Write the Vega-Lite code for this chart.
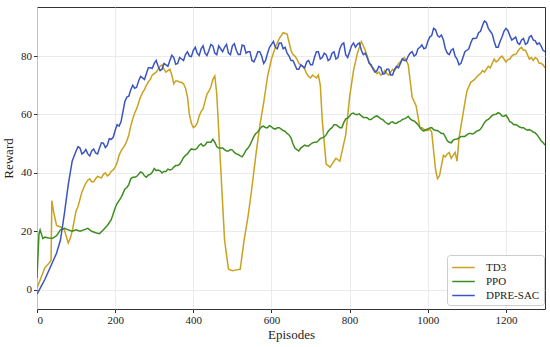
{
  "$schema": "https://vega.github.io/schema/vega-lite/v6.json",
  "autosize": "none",
  "width": 508,
  "height": 302,
  "padding": {"left": 37, "top": 7, "right": 5, "bottom": 38},
  "background": "white",
  "config": {
    "font": "Liberation Serif",
    "view": {"stroke": "#333333", "strokeWidth": 1}
  },
  "data": {"values": [
    {"e":0,"a":"TD3","r":0.6},{"e":10,"a":"TD3","r":4},{"e":20,"a":"TD3","r":7.5},{"e":30,"a":"TD3","r":9},{"e":36,"a":"TD3","r":10},{"e":38,"a":"TD3","r":30.5},{"e":42,"a":"TD3","r":27},{"e":50,"a":"TD3","r":22},{"e":60,"a":"TD3","r":21.5},{"e":70,"a":"TD3","r":20.5},{"e":80,"a":"TD3","r":16},{"e":85,"a":"TD3","r":17.5},{"e":90,"a":"TD3","r":20},{"e":100,"a":"TD3","r":27},{"e":110,"a":"TD3","r":31},{"e":120,"a":"TD3","r":35},{"e":130,"a":"TD3","r":37.5},{"e":140,"a":"TD3","r":37},{"e":150,"a":"TD3","r":38},{"e":160,"a":"TD3","r":38.5},{"e":170,"a":"TD3","r":39.5},{"e":180,"a":"TD3","r":39},{"e":190,"a":"TD3","r":40.5},{"e":200,"a":"TD3","r":42},{"e":210,"a":"TD3","r":46},{"e":220,"a":"TD3","r":48.5},{"e":230,"a":"TD3","r":51},{"e":240,"a":"TD3","r":56},{"e":250,"a":"TD3","r":60.5},{"e":260,"a":"TD3","r":64},{"e":270,"a":"TD3","r":67.5},{"e":280,"a":"TD3","r":70},{"e":290,"a":"TD3","r":72},{"e":300,"a":"TD3","r":74},{"e":310,"a":"TD3","r":75.5},{"e":320,"a":"TD3","r":77},{"e":330,"a":"TD3","r":74.5},{"e":340,"a":"TD3","r":75.5},{"e":350,"a":"TD3","r":70.5},{"e":360,"a":"TD3","r":71.5},{"e":370,"a":"TD3","r":71},{"e":380,"a":"TD3","r":69},{"e":390,"a":"TD3","r":60},{"e":400,"a":"TD3","r":55.5},{"e":410,"a":"TD3","r":57},{"e":420,"a":"TD3","r":61},{"e":430,"a":"TD3","r":64.5},{"e":440,"a":"TD3","r":68},{"e":450,"a":"TD3","r":72},{"e":455,"a":"TD3","r":73.2},{"e":460,"a":"TD3","r":67},{"e":470,"a":"TD3","r":42},{"e":480,"a":"TD3","r":17},{"e":490,"a":"TD3","r":7},{"e":500,"a":"TD3","r":6.5},{"e":510,"a":"TD3","r":6.8},{"e":520,"a":"TD3","r":7},{"e":530,"a":"TD3","r":17},{"e":540,"a":"TD3","r":25},{"e":550,"a":"TD3","r":35},{"e":560,"a":"TD3","r":46},{"e":570,"a":"TD3","r":56},{"e":580,"a":"TD3","r":64},{"e":590,"a":"TD3","r":73},{"e":600,"a":"TD3","r":79},{"e":610,"a":"TD3","r":83},{"e":620,"a":"TD3","r":86},{"e":630,"a":"TD3","r":88},{"e":640,"a":"TD3","r":87.5},{"e":650,"a":"TD3","r":82},{"e":660,"a":"TD3","r":80},{"e":670,"a":"TD3","r":77.5},{"e":680,"a":"TD3","r":76.5},{"e":690,"a":"TD3","r":74},{"e":700,"a":"TD3","r":72.5},{"e":710,"a":"TD3","r":73},{"e":720,"a":"TD3","r":73.5},{"e":725,"a":"TD3","r":70},{"e":730,"a":"TD3","r":58},{"e":740,"a":"TD3","r":43},{"e":750,"a":"TD3","r":42},{"e":760,"a":"TD3","r":44},{"e":770,"a":"TD3","r":44.5},{"e":780,"a":"TD3","r":47},{"e":790,"a":"TD3","r":53},{"e":800,"a":"TD3","r":66},{"e":810,"a":"TD3","r":75},{"e":820,"a":"TD3","r":81},{"e":830,"a":"TD3","r":85},{"e":840,"a":"TD3","r":82},{"e":850,"a":"TD3","r":78},{"e":860,"a":"TD3","r":76},{"e":870,"a":"TD3","r":74},{"e":880,"a":"TD3","r":73.5},{"e":890,"a":"TD3","r":75},{"e":900,"a":"TD3","r":73.5},{"e":910,"a":"TD3","r":75.5},{"e":920,"a":"TD3","r":76},{"e":930,"a":"TD3","r":78},{"e":940,"a":"TD3","r":79.5},{"e":950,"a":"TD3","r":77},{"e":960,"a":"TD3","r":66},{"e":970,"a":"TD3","r":63},{"e":980,"a":"TD3","r":55.5},{"e":990,"a":"TD3","r":55},{"e":1000,"a":"TD3","r":54.5},{"e":1010,"a":"TD3","r":54},{"e":1020,"a":"TD3","r":41},{"e":1025,"a":"TD3","r":38},{"e":1030,"a":"TD3","r":39},{"e":1040,"a":"TD3","r":46},{"e":1050,"a":"TD3","r":46.5},{"e":1060,"a":"TD3","r":45},{"e":1070,"a":"TD3","r":47},{"e":1075,"a":"TD3","r":44},{"e":1080,"a":"TD3","r":52},{"e":1090,"a":"TD3","r":60},{"e":1100,"a":"TD3","r":68},{"e":1110,"a":"TD3","r":71},{"e":1120,"a":"TD3","r":72},{"e":1130,"a":"TD3","r":73.5},{"e":1140,"a":"TD3","r":75},{"e":1150,"a":"TD3","r":75.5},{"e":1160,"a":"TD3","r":76},{"e":1170,"a":"TD3","r":79},{"e":1180,"a":"TD3","r":78.5},{"e":1190,"a":"TD3","r":80},{"e":1200,"a":"TD3","r":78},{"e":1210,"a":"TD3","r":79},{"e":1220,"a":"TD3","r":80.5},{"e":1230,"a":"TD3","r":81.5},{"e":1240,"a":"TD3","r":83},{"e":1250,"a":"TD3","r":82},{"e":1260,"a":"TD3","r":79},{"e":1270,"a":"TD3","r":78.5},{"e":1280,"a":"TD3","r":79},{"e":1290,"a":"TD3","r":77.5},{"e":1300,"a":"TD3","r":76},
    {"e":105,"a":"TD3","r":28.5},{"e":115,"a":"TD3","r":33.5},{"e":125,"a":"TD3","r":36.5},{"e":135,"a":"TD3","r":38},{"e":145,"a":"TD3","r":37},{"e":155,"a":"TD3","r":38.8},{"e":165,"a":"TD3","r":38.3},{"e":175,"a":"TD3","r":40},{"e":185,"a":"TD3","r":39.5},{"e":195,"a":"TD3","r":41},{"e":205,"a":"TD3","r":43.5},{"e":215,"a":"TD3","r":47.5},{"e":225,"a":"TD3","r":49.5},{"e":235,"a":"TD3","r":53},{"e":245,"a":"TD3","r":58.5},{"e":255,"a":"TD3","r":62},{"e":265,"a":"TD3","r":66},{"e":275,"a":"TD3","r":68.5},{"e":285,"a":"TD3","r":71.2},{"e":295,"a":"TD3","r":73.5},{"e":305,"a":"TD3","r":74.5},{"e":315,"a":"TD3","r":76.5},{"e":325,"a":"TD3","r":75.5},{"e":335,"a":"TD3","r":75},{"e":345,"a":"TD3","r":73.5},{"e":355,"a":"TD3","r":71.5},{"e":365,"a":"TD3","r":71},{"e":375,"a":"TD3","r":70.5},{"e":385,"a":"TD3","r":66},{"e":395,"a":"TD3","r":57},{"e":405,"a":"TD3","r":56},{"e":415,"a":"TD3","r":59.5},{"e":425,"a":"TD3","r":62},{"e":435,"a":"TD3","r":67},{"e":445,"a":"TD3","r":69.5},{"e":655,"a":"TD3","r":80.5},{"e":665,"a":"TD3","r":79},{"e":675,"a":"TD3","r":77},{"e":685,"a":"TD3","r":75.5},{"e":695,"a":"TD3","r":73},{"e":705,"a":"TD3","r":73.5},{"e":715,"a":"TD3","r":72.5},{"e":745,"a":"TD3","r":42.5},{"e":755,"a":"TD3","r":43},{"e":765,"a":"TD3","r":45},{"e":775,"a":"TD3","r":44},{"e":785,"a":"TD3","r":50},{"e":845,"a":"TD3","r":80},{"e":855,"a":"TD3","r":76.5},{"e":865,"a":"TD3","r":75},{"e":875,"a":"TD3","r":74.5},{"e":885,"a":"TD3","r":74},{"e":895,"a":"TD3","r":74},{"e":905,"a":"TD3","r":74.5},{"e":915,"a":"TD3","r":75},{"e":925,"a":"TD3","r":77.5},{"e":935,"a":"TD3","r":79},{"e":945,"a":"TD3","r":78.5},{"e":985,"a":"TD3","r":55.5},{"e":995,"a":"TD3","r":54.5},{"e":1005,"a":"TD3","r":55},{"e":1045,"a":"TD3","r":45.5},{"e":1055,"a":"TD3","r":47},{"e":1065,"a":"TD3","r":46},{"e":1115,"a":"TD3","r":71.5},{"e":1125,"a":"TD3","r":72.8},{"e":1135,"a":"TD3","r":74},{"e":1145,"a":"TD3","r":74.5},{"e":1155,"a":"TD3","r":76.5},{"e":1165,"a":"TD3","r":77.5},{"e":1175,"a":"TD3","r":78},{"e":1185,"a":"TD3","r":79.5},{"e":1195,"a":"TD3","r":79},{"e":1205,"a":"TD3","r":78.8},{"e":1215,"a":"TD3","r":80},{"e":1225,"a":"TD3","r":80.5},{"e":1235,"a":"TD3","r":82.5},{"e":1245,"a":"TD3","r":82},{"e":1255,"a":"TD3","r":80.5},{"e":1265,"a":"TD3","r":79.5},{"e":1275,"a":"TD3","r":79.5},{"e":1285,"a":"TD3","r":77.5},{"e":1295,"a":"TD3","r":77},
    {"e":0,"a":"PPO","r":4},{"e":5,"a":"PPO","r":19},{"e":8,"a":"PPO","r":20.5},{"e":15,"a":"PPO","r":17.5},{"e":20,"a":"PPO","r":18},{"e":30,"a":"PPO","r":17.7},{"e":40,"a":"PPO","r":17.6},{"e":50,"a":"PPO","r":18.5},{"e":60,"a":"PPO","r":20.5},{"e":70,"a":"PPO","r":21},{"e":80,"a":"PPO","r":20.5},{"e":90,"a":"PPO","r":20},{"e":100,"a":"PPO","r":20.5},{"e":110,"a":"PPO","r":20},{"e":120,"a":"PPO","r":20.5},{"e":130,"a":"PPO","r":21},{"e":140,"a":"PPO","r":20},{"e":150,"a":"PPO","r":19.5},{"e":160,"a":"PPO","r":19.2},{"e":170,"a":"PPO","r":20.5},{"e":180,"a":"PPO","r":22},{"e":190,"a":"PPO","r":24},{"e":200,"a":"PPO","r":28},{"e":210,"a":"PPO","r":30.5},{"e":220,"a":"PPO","r":33},{"e":230,"a":"PPO","r":35},{"e":240,"a":"PPO","r":38},{"e":250,"a":"PPO","r":38.5},{"e":260,"a":"PPO","r":39.5},{"e":270,"a":"PPO","r":40},{"e":280,"a":"PPO","r":38.5},{"e":290,"a":"PPO","r":39.5},{"e":300,"a":"PPO","r":41.5},{"e":310,"a":"PPO","r":41},{"e":320,"a":"PPO","r":40},{"e":330,"a":"PPO","r":40.5},{"e":340,"a":"PPO","r":41},{"e":350,"a":"PPO","r":42},{"e":360,"a":"PPO","r":42.5},{"e":370,"a":"PPO","r":44},{"e":380,"a":"PPO","r":46},{"e":390,"a":"PPO","r":47.5},{"e":400,"a":"PPO","r":48},{"e":410,"a":"PPO","r":48.5},{"e":420,"a":"PPO","r":50},{"e":430,"a":"PPO","r":49.5},{"e":440,"a":"PPO","r":50.5},{"e":450,"a":"PPO","r":51.5},{"e":460,"a":"PPO","r":49},{"e":470,"a":"PPO","r":48.5},{"e":480,"a":"PPO","r":48},{"e":490,"a":"PPO","r":47.5},{"e":500,"a":"PPO","r":47.8},{"e":510,"a":"PPO","r":46.5},{"e":520,"a":"PPO","r":45.8},{"e":530,"a":"PPO","r":46.5},{"e":540,"a":"PPO","r":48.5},{"e":550,"a":"PPO","r":51},{"e":560,"a":"PPO","r":53.5},{"e":570,"a":"PPO","r":55},{"e":580,"a":"PPO","r":56},{"e":590,"a":"PPO","r":55.5},{"e":600,"a":"PPO","r":55.8},{"e":610,"a":"PPO","r":55},{"e":620,"a":"PPO","r":55.5},{"e":630,"a":"PPO","r":54.5},{"e":640,"a":"PPO","r":53.5},{"e":650,"a":"PPO","r":52},{"e":660,"a":"PPO","r":48.5},{"e":670,"a":"PPO","r":47.5},{"e":680,"a":"PPO","r":49},{"e":690,"a":"PPO","r":49.2},{"e":700,"a":"PPO","r":49.8},{"e":710,"a":"PPO","r":50.5},{"e":720,"a":"PPO","r":51},{"e":730,"a":"PPO","r":52},{"e":740,"a":"PPO","r":53},{"e":750,"a":"PPO","r":55},{"e":760,"a":"PPO","r":56.5},{"e":770,"a":"PPO","r":56},{"e":780,"a":"PPO","r":55.5},{"e":790,"a":"PPO","r":58.5},{"e":800,"a":"PPO","r":59.5},{"e":810,"a":"PPO","r":60.5},{"e":820,"a":"PPO","r":60},{"e":830,"a":"PPO","r":59.5},{"e":840,"a":"PPO","r":59},{"e":850,"a":"PPO","r":58.3},{"e":860,"a":"PPO","r":58.8},{"e":870,"a":"PPO","r":59.5},{"e":880,"a":"PPO","r":58.5},{"e":890,"a":"PPO","r":57.5},{"e":900,"a":"PPO","r":56.6},{"e":910,"a":"PPO","r":57.5},{"e":920,"a":"PPO","r":57},{"e":930,"a":"PPO","r":57.7},{"e":940,"a":"PPO","r":58.5},{"e":950,"a":"PPO","r":59.4},{"e":960,"a":"PPO","r":58},{"e":970,"a":"PPO","r":57.2},{"e":980,"a":"PPO","r":55.5},{"e":990,"a":"PPO","r":54.3},{"e":1000,"a":"PPO","r":55},{"e":1010,"a":"PPO","r":55.5},{"e":1020,"a":"PPO","r":54.5},{"e":1030,"a":"PPO","r":54},{"e":1040,"a":"PPO","r":53.5},{"e":1050,"a":"PPO","r":51},{"e":1060,"a":"PPO","r":50.3},{"e":1070,"a":"PPO","r":51.5},{"e":1080,"a":"PPO","r":52},{"e":1090,"a":"PPO","r":52.5},{"e":1100,"a":"PPO","r":53},{"e":1110,"a":"PPO","r":53.5},{"e":1120,"a":"PPO","r":53.7},{"e":1130,"a":"PPO","r":54.5},{"e":1140,"a":"PPO","r":56},{"e":1150,"a":"PPO","r":58},{"e":1160,"a":"PPO","r":59},{"e":1170,"a":"PPO","r":60},{"e":1180,"a":"PPO","r":60.6},{"e":1190,"a":"PPO","r":59.5},{"e":1200,"a":"PPO","r":59.8},{"e":1210,"a":"PPO","r":57.5},{"e":1220,"a":"PPO","r":56.5},{"e":1230,"a":"PPO","r":56.2},{"e":1240,"a":"PPO","r":55.5},{"e":1250,"a":"PPO","r":55},{"e":1260,"a":"PPO","r":54.8},{"e":1270,"a":"PPO","r":54},{"e":1280,"a":"PPO","r":53},{"e":1290,"a":"PPO","r":51},{"e":1300,"a":"PPO","r":49.5},
    {"e":205,"a":"PPO","r":29.5},{"e":215,"a":"PPO","r":31.5},{"e":225,"a":"PPO","r":34.5},{"e":235,"a":"PPO","r":36},{"e":245,"a":"PPO","r":38.5},{"e":255,"a":"PPO","r":38.8},{"e":265,"a":"PPO","r":40.3},{"e":275,"a":"PPO","r":39},{"e":285,"a":"PPO","r":39.3},{"e":295,"a":"PPO","r":40.2},{"e":305,"a":"PPO","r":40.8},{"e":315,"a":"PPO","r":40.7},{"e":325,"a":"PPO","r":40.5},{"e":335,"a":"PPO","r":41.3},{"e":345,"a":"PPO","r":41.2},{"e":355,"a":"PPO","r":42.5},{"e":365,"a":"PPO","r":43},{"e":375,"a":"PPO","r":45.3},{"e":385,"a":"PPO","r":46.5},{"e":395,"a":"PPO","r":48.2},{"e":405,"a":"PPO","r":48},{"e":415,"a":"PPO","r":49.5},{"e":425,"a":"PPO","r":49.2},{"e":435,"a":"PPO","r":50.5},{"e":445,"a":"PPO","r":50.5},{"e":455,"a":"PPO","r":50.5},{"e":465,"a":"PPO","r":48.5},{"e":475,"a":"PPO","r":48.5},{"e":485,"a":"PPO","r":47.5},{"e":495,"a":"PPO","r":48},{"e":505,"a":"PPO","r":47},{"e":515,"a":"PPO","r":46.3},{"e":525,"a":"PPO","r":45.5},{"e":535,"a":"PPO","r":47.8},{"e":545,"a":"PPO","r":49.5},{"e":555,"a":"PPO","r":52.5},{"e":565,"a":"PPO","r":54},{"e":575,"a":"PPO","r":55.8},{"e":585,"a":"PPO","r":55.5},{"e":595,"a":"PPO","r":56.2},{"e":605,"a":"PPO","r":55.2},{"e":615,"a":"PPO","r":55.5},{"e":625,"a":"PPO","r":55},{"e":635,"a":"PPO","r":54.2},{"e":645,"a":"PPO","r":53},{"e":655,"a":"PPO","r":50},{"e":665,"a":"PPO","r":48},{"e":675,"a":"PPO","r":48.5},{"e":685,"a":"PPO","r":49.5},{"e":695,"a":"PPO","r":49.2},{"e":705,"a":"PPO","r":50.3},{"e":715,"a":"PPO","r":50.5},{"e":725,"a":"PPO","r":51.8},{"e":735,"a":"PPO","r":52.3},{"e":745,"a":"PPO","r":54.2},{"e":755,"a":"PPO","r":55.5},{"e":765,"a":"PPO","r":56.5},{"e":775,"a":"PPO","r":55.5},{"e":785,"a":"PPO","r":57.2},{"e":795,"a":"PPO","r":58.7},{"e":805,"a":"PPO","r":60.3},{"e":815,"a":"PPO","r":60},{"e":825,"a":"PPO","r":60.2},{"e":835,"a":"PPO","r":59},{"e":845,"a":"PPO","r":58.9},{"e":855,"a":"PPO","r":58.3},{"e":865,"a":"PPO","r":59.3},{"e":875,"a":"PPO","r":59},{"e":885,"a":"PPO","r":58.2},{"e":895,"a":"PPO","r":57},{"e":905,"a":"PPO","r":57.3},{"e":915,"a":"PPO","r":57},{"e":925,"a":"PPO","r":57.5},{"e":935,"a":"PPO","r":58.3},{"e":945,"a":"PPO","r":58.8},{"e":955,"a":"PPO","r":58.5},{"e":965,"a":"PPO","r":57.8},{"e":975,"a":"PPO","r":56.5},{"e":985,"a":"PPO","r":54.7},{"e":995,"a":"PPO","r":54.8},{"e":1005,"a":"PPO","r":55.4},{"e":1015,"a":"PPO","r":54.8},{"e":1025,"a":"PPO","r":54.5},{"e":1035,"a":"PPO","r":53.5},{"e":1045,"a":"PPO","r":52.3},{"e":1055,"a":"PPO","r":50.5},{"e":1065,"a":"PPO","r":51.2},{"e":1075,"a":"PPO","r":51.6},{"e":1085,"a":"PPO","r":52.5},{"e":1095,"a":"PPO","r":52.5},{"e":1105,"a":"PPO","r":53.5},{"e":1115,"a":"PPO","r":53.3},{"e":1125,"a":"PPO","r":54.3},{"e":1135,"a":"PPO","r":55},{"e":1145,"a":"PPO","r":57.2},{"e":1155,"a":"PPO","r":58.3},{"e":1165,"a":"PPO","r":59.7},{"e":1175,"a":"PPO","r":60.1},{"e":1185,"a":"PPO","r":60.3},{"e":1195,"a":"PPO","r":59.4},{"e":1205,"a":"PPO","r":58.8},{"e":1215,"a":"PPO","r":57.2},{"e":1225,"a":"PPO","r":56.6},{"e":1235,"a":"PPO","r":55.7},{"e":1245,"a":"PPO","r":55.5},{"e":1255,"a":"PPO","r":54.6},{"e":1265,"a":"PPO","r":54.5},{"e":1275,"a":"PPO","r":53.7},{"e":1285,"a":"PPO","r":52},{"e":1295,"a":"PPO","r":50.4},
    {"e":0,"a":"DPRE-SAC","r":-1.5},{"e":10,"a":"DPRE-SAC","r":1},{"e":20,"a":"DPRE-SAC","r":3.5},{"e":30,"a":"DPRE-SAC","r":6.5},{"e":40,"a":"DPRE-SAC","r":9.5},{"e":50,"a":"DPRE-SAC","r":12.5},{"e":60,"a":"DPRE-SAC","r":17},{"e":70,"a":"DPRE-SAC","r":26},{"e":80,"a":"DPRE-SAC","r":36},{"e":90,"a":"DPRE-SAC","r":44},{"e":100,"a":"DPRE-SAC","r":47.5},{"e":110,"a":"DPRE-SAC","r":48.5},{"e":120,"a":"DPRE-SAC","r":47},{"e":130,"a":"DPRE-SAC","r":46.5},{"e":140,"a":"DPRE-SAC","r":47.5},{"e":150,"a":"DPRE-SAC","r":46.8},{"e":160,"a":"DPRE-SAC","r":48.5},{"e":170,"a":"DPRE-SAC","r":50.2},{"e":180,"a":"DPRE-SAC","r":49.5},{"e":190,"a":"DPRE-SAC","r":51.5},{"e":200,"a":"DPRE-SAC","r":54.5},{"e":210,"a":"DPRE-SAC","r":56},{"e":220,"a":"DPRE-SAC","r":61},{"e":230,"a":"DPRE-SAC","r":66},{"e":240,"a":"DPRE-SAC","r":68.5},{"e":250,"a":"DPRE-SAC","r":69},{"e":260,"a":"DPRE-SAC","r":71.5},{"e":270,"a":"DPRE-SAC","r":72.5},{"e":280,"a":"DPRE-SAC","r":74},{"e":290,"a":"DPRE-SAC","r":76},{"e":300,"a":"DPRE-SAC","r":77.5},{"e":310,"a":"DPRE-SAC","r":76.5},{"e":320,"a":"DPRE-SAC","r":75.5},{"e":330,"a":"DPRE-SAC","r":77},{"e":340,"a":"DPRE-SAC","r":78.5},{"e":350,"a":"DPRE-SAC","r":79.5},{"e":360,"a":"DPRE-SAC","r":77.5},{"e":370,"a":"DPRE-SAC","r":79},{"e":380,"a":"DPRE-SAC","r":80.5},{"e":390,"a":"DPRE-SAC","r":80},{"e":400,"a":"DPRE-SAC","r":82},{"e":410,"a":"DPRE-SAC","r":81},{"e":420,"a":"DPRE-SAC","r":82.5},{"e":430,"a":"DPRE-SAC","r":81},{"e":440,"a":"DPRE-SAC","r":82},{"e":450,"a":"DPRE-SAC","r":83.5},{"e":460,"a":"DPRE-SAC","r":80.5},{"e":470,"a":"DPRE-SAC","r":82.5},{"e":480,"a":"DPRE-SAC","r":83},{"e":490,"a":"DPRE-SAC","r":81},{"e":500,"a":"DPRE-SAC","r":83.5},{"e":510,"a":"DPRE-SAC","r":82},{"e":520,"a":"DPRE-SAC","r":80.5},{"e":530,"a":"DPRE-SAC","r":83.5},{"e":540,"a":"DPRE-SAC","r":81.5},{"e":550,"a":"DPRE-SAC","r":78.5},{"e":560,"a":"DPRE-SAC","r":79.5},{"e":570,"a":"DPRE-SAC","r":81.5},{"e":580,"a":"DPRE-SAC","r":77.5},{"e":590,"a":"DPRE-SAC","r":81},{"e":600,"a":"DPRE-SAC","r":84},{"e":610,"a":"DPRE-SAC","r":83},{"e":620,"a":"DPRE-SAC","r":84.5},{"e":630,"a":"DPRE-SAC","r":82.5},{"e":640,"a":"DPRE-SAC","r":81},{"e":650,"a":"DPRE-SAC","r":78.5},{"e":660,"a":"DPRE-SAC","r":77},{"e":670,"a":"DPRE-SAC","r":75.5},{"e":680,"a":"DPRE-SAC","r":76.5},{"e":690,"a":"DPRE-SAC","r":78},{"e":700,"a":"DPRE-SAC","r":77},{"e":710,"a":"DPRE-SAC","r":79.5},{"e":720,"a":"DPRE-SAC","r":81.5},{"e":730,"a":"DPRE-SAC","r":79.5},{"e":740,"a":"DPRE-SAC","r":80.5},{"e":750,"a":"DPRE-SAC","r":79},{"e":760,"a":"DPRE-SAC","r":81.5},{"e":770,"a":"DPRE-SAC","r":79.5},{"e":780,"a":"DPRE-SAC","r":84},{"e":790,"a":"DPRE-SAC","r":80.5},{"e":800,"a":"DPRE-SAC","r":81.5},{"e":810,"a":"DPRE-SAC","r":84.5},{"e":820,"a":"DPRE-SAC","r":84},{"e":830,"a":"DPRE-SAC","r":82},{"e":840,"a":"DPRE-SAC","r":81},{"e":850,"a":"DPRE-SAC","r":77.5},{"e":860,"a":"DPRE-SAC","r":75.5},{"e":870,"a":"DPRE-SAC","r":75},{"e":880,"a":"DPRE-SAC","r":76},{"e":890,"a":"DPRE-SAC","r":74},{"e":900,"a":"DPRE-SAC","r":75.5},{"e":910,"a":"DPRE-SAC","r":73.5},{"e":920,"a":"DPRE-SAC","r":76.5},{"e":930,"a":"DPRE-SAC","r":77.5},{"e":940,"a":"DPRE-SAC","r":78.5},{"e":950,"a":"DPRE-SAC","r":80},{"e":960,"a":"DPRE-SAC","r":81.5},{"e":970,"a":"DPRE-SAC","r":80.5},{"e":980,"a":"DPRE-SAC","r":83},{"e":990,"a":"DPRE-SAC","r":82.5},{"e":1000,"a":"DPRE-SAC","r":85},{"e":1010,"a":"DPRE-SAC","r":87},{"e":1020,"a":"DPRE-SAC","r":89},{"e":1030,"a":"DPRE-SAC","r":86.5},{"e":1040,"a":"DPRE-SAC","r":85.5},{"e":1050,"a":"DPRE-SAC","r":81},{"e":1060,"a":"DPRE-SAC","r":82},{"e":1070,"a":"DPRE-SAC","r":80},{"e":1080,"a":"DPRE-SAC","r":77},{"e":1090,"a":"DPRE-SAC","r":79.5},{"e":1100,"a":"DPRE-SAC","r":82},{"e":1110,"a":"DPRE-SAC","r":84.5},{"e":1120,"a":"DPRE-SAC","r":86},{"e":1130,"a":"DPRE-SAC","r":88},{"e":1140,"a":"DPRE-SAC","r":90.5},{"e":1150,"a":"DPRE-SAC","r":91.5},{"e":1160,"a":"DPRE-SAC","r":88.5},{"e":1170,"a":"DPRE-SAC","r":85},{"e":1180,"a":"DPRE-SAC","r":83},{"e":1190,"a":"DPRE-SAC","r":86.5},{"e":1200,"a":"DPRE-SAC","r":89.5},{"e":1210,"a":"DPRE-SAC","r":87},{"e":1220,"a":"DPRE-SAC","r":86},{"e":1230,"a":"DPRE-SAC","r":84.5},{"e":1240,"a":"DPRE-SAC","r":85.5},{"e":1250,"a":"DPRE-SAC","r":84},{"e":1260,"a":"DPRE-SAC","r":86.5},{"e":1270,"a":"DPRE-SAC","r":85.5},{"e":1280,"a":"DPRE-SAC","r":84},{"e":1290,"a":"DPRE-SAC","r":83.5},{"e":1300,"a":"DPRE-SAC","r":81.5},
    {"e":105,"a":"DPRE-SAC","r":49},{"e":115,"a":"DPRE-SAC","r":46.5},{"e":125,"a":"DPRE-SAC","r":48},{"e":135,"a":"DPRE-SAC","r":45.8},{"e":145,"a":"DPRE-SAC","r":48.2},{"e":155,"a":"DPRE-SAC","r":46.5},{"e":165,"a":"DPRE-SAC","r":50.3},{"e":175,"a":"DPRE-SAC","r":48.7},{"e":185,"a":"DPRE-SAC","r":51.7},{"e":195,"a":"DPRE-SAC","r":52.2},{"e":205,"a":"DPRE-SAC","r":56.5},{"e":215,"a":"DPRE-SAC","r":57.5},{"e":225,"a":"DPRE-SAC","r":64.5},{"e":235,"a":"DPRE-SAC","r":66.3},{"e":245,"a":"DPRE-SAC","r":70},{"e":255,"a":"DPRE-SAC","r":69.3},{"e":265,"a":"DPRE-SAC","r":73},{"e":275,"a":"DPRE-SAC","r":72},{"e":285,"a":"DPRE-SAC","r":76},{"e":295,"a":"DPRE-SAC","r":75.8},{"e":305,"a":"DPRE-SAC","r":78.5},{"e":315,"a":"DPRE-SAC","r":75},{"e":325,"a":"DPRE-SAC","r":77.5},{"e":335,"a":"DPRE-SAC","r":76.5},{"e":345,"a":"DPRE-SAC","r":80.3},{"e":355,"a":"DPRE-SAC","r":77.2},{"e":365,"a":"DPRE-SAC","r":79.5},{"e":375,"a":"DPRE-SAC","r":78.5},{"e":385,"a":"DPRE-SAC","r":81.5},{"e":395,"a":"DPRE-SAC","r":79.8},{"e":405,"a":"DPRE-SAC","r":83},{"e":415,"a":"DPRE-SAC","r":80.2},{"e":425,"a":"DPRE-SAC","r":83.5},{"e":435,"a":"DPRE-SAC","r":80.2},{"e":445,"a":"DPRE-SAC","r":84},{"e":455,"a":"DPRE-SAC","r":81},{"e":465,"a":"DPRE-SAC","r":83.5},{"e":475,"a":"DPRE-SAC","r":81.5},{"e":485,"a":"DPRE-SAC","r":84},{"e":495,"a":"DPRE-SAC","r":80.5},{"e":505,"a":"DPRE-SAC","r":84.2},{"e":515,"a":"DPRE-SAC","r":80.5},{"e":525,"a":"DPRE-SAC","r":83.8},{"e":535,"a":"DPRE-SAC","r":81},{"e":545,"a":"DPRE-SAC","r":81.5},{"e":555,"a":"DPRE-SAC","r":78},{"e":565,"a":"DPRE-SAC","r":81.5},{"e":575,"a":"DPRE-SAC","r":80},{"e":585,"a":"DPRE-SAC","r":78.5},{"e":595,"a":"DPRE-SAC","r":83},{"e":605,"a":"DPRE-SAC","r":85},{"e":615,"a":"DPRE-SAC","r":82.5},{"e":625,"a":"DPRE-SAC","r":84.5},{"e":635,"a":"DPRE-SAC","r":83},{"e":645,"a":"DPRE-SAC","r":80},{"e":655,"a":"DPRE-SAC","r":78.5},{"e":665,"a":"DPRE-SAC","r":75.5},{"e":675,"a":"DPRE-SAC","r":77},{"e":685,"a":"DPRE-SAC","r":76},{"e":695,"a":"DPRE-SAC","r":78.5},{"e":705,"a":"DPRE-SAC","r":77},{"e":715,"a":"DPRE-SAC","r":81.5},{"e":725,"a":"DPRE-SAC","r":79},{"e":735,"a":"DPRE-SAC","r":81},{"e":745,"a":"DPRE-SAC","r":78.5},{"e":755,"a":"DPRE-SAC","r":81},{"e":765,"a":"DPRE-SAC","r":79},{"e":775,"a":"DPRE-SAC","r":82.5},{"e":785,"a":"DPRE-SAC","r":84.5},{"e":795,"a":"DPRE-SAC","r":79.5},{"e":805,"a":"DPRE-SAC","r":83.5},{"e":815,"a":"DPRE-SAC","r":83},{"e":825,"a":"DPRE-SAC","r":84.5},{"e":835,"a":"DPRE-SAC","r":80.5},{"e":845,"a":"DPRE-SAC","r":79.5},{"e":855,"a":"DPRE-SAC","r":77},{"e":865,"a":"DPRE-SAC","r":74.5},{"e":875,"a":"DPRE-SAC","r":76.5},{"e":885,"a":"DPRE-SAC","r":73.8},{"e":895,"a":"DPRE-SAC","r":75.5},{"e":905,"a":"DPRE-SAC","r":73.5},{"e":915,"a":"DPRE-SAC","r":75.5},{"e":925,"a":"DPRE-SAC","r":76},{"e":935,"a":"DPRE-SAC","r":79},{"e":945,"a":"DPRE-SAC","r":78.5},{"e":955,"a":"DPRE-SAC","r":81},{"e":965,"a":"DPRE-SAC","r":80},{"e":975,"a":"DPRE-SAC","r":82.5},{"e":985,"a":"DPRE-SAC","r":83.8},{"e":995,"a":"DPRE-SAC","r":82.8},{"e":1005,"a":"DPRE-SAC","r":86.5},{"e":1015,"a":"DPRE-SAC","r":89.5},{"e":1025,"a":"DPRE-SAC","r":87},{"e":1035,"a":"DPRE-SAC","r":87.2},{"e":1045,"a":"DPRE-SAC","r":82.5},{"e":1055,"a":"DPRE-SAC","r":80.5},{"e":1065,"a":"DPRE-SAC","r":82.5},{"e":1075,"a":"DPRE-SAC","r":79},{"e":1085,"a":"DPRE-SAC","r":77.5},{"e":1095,"a":"DPRE-SAC","r":81.5},{"e":1105,"a":"DPRE-SAC","r":82.5},{"e":1115,"a":"DPRE-SAC","r":86},{"e":1125,"a":"DPRE-SAC","r":86.2},{"e":1135,"a":"DPRE-SAC","r":88.5},{"e":1145,"a":"DPRE-SAC","r":92},{"e":1155,"a":"DPRE-SAC","r":89.5},{"e":1165,"a":"DPRE-SAC","r":87.5},{"e":1175,"a":"DPRE-SAC","r":83},{"e":1185,"a":"DPRE-SAC","r":85},{"e":1195,"a":"DPRE-SAC","r":88.5},{"e":1205,"a":"DPRE-SAC","r":88.8},{"e":1215,"a":"DPRE-SAC","r":85.5},{"e":1225,"a":"DPRE-SAC","r":86.5},{"e":1235,"a":"DPRE-SAC","r":84},{"e":1245,"a":"DPRE-SAC","r":86},{"e":1255,"a":"DPRE-SAC","r":84.5},{"e":1265,"a":"DPRE-SAC","r":87},{"e":1275,"a":"DPRE-SAC","r":85.2},{"e":1285,"a":"DPRE-SAC","r":84.5},{"e":1295,"a":"DPRE-SAC","r":82}
  ]},
  "mark": {"type": "line", "strokeWidth": 1.5, "clip": true},
  "encoding": {
    "x": {
      "field": "e", "type": "quantitative",
      "scale": {"domain": [0, 1300], "nice": false, "zero": false},
      "axis": {
        "title": "Episodes", "values": [0,200,400,600,800,1000,1200], "format": "d",
        "grid": true, "gridColor": "#e6e6e6", "gridWidth": 0.8,
        "domain": false, "tickColor": "#333", "tickSize": 3.5,
        "labelFont": "Liberation Serif", "labelFontSize": 11, "labelColor": "#222", "labelPadding": 2,
        "titleFont": "Liberation Serif", "titleFontSize": 13, "titleFontWeight": "normal", "titleColor": "#222", "titlePadding": 3
      }
    },
    "y": {
      "field": "r", "type": "quantitative",
      "scale": {"domain": [-6.6, 96.8], "nice": false, "zero": false},
      "axis": {
        "title": "Reward", "values": [0,20,40,60,80], "format": "d",
        "grid": true, "gridColor": "#e6e6e6", "gridWidth": 0.8,
        "domain": false, "tickColor": "#333", "tickSize": 3.5,
        "labelFont": "Liberation Serif", "labelFontSize": 11, "labelColor": "#222", "labelPadding": 2,
        "titleFont": "Liberation Serif", "titleFontSize": 13, "titleFontWeight": "normal", "titleColor": "#222", "titlePadding": 5
      }
    },
    "color": {
      "field": "a", "type": "nominal",
      "scale": {"domain": ["TD3", "PPO", "DPRE-SAC"], "range": ["#C9A21F", "#3E8C1F", "#3B55C0"]},
      "legend": {
        "title": null, "orient": "none", "legendX": 410, "legendY": 248,
        "symbolType": "M-1.5,0H1.5", "symbolStrokeWidth": 1.5, "symbolSize": 225, "symbolOffset": 4,
        "labelOffset": 14,
        "labelFont": "Liberation Serif", "labelFontSize": 11, "labelColor": "#222",
        "strokeColor": "#cccccc", "fillColor": "white", "padding": 4, "cornerRadius": 3,
        "rowPadding": 0
      }
    },
    "order": {"field": "e", "type": "quantitative"}
  }
}
